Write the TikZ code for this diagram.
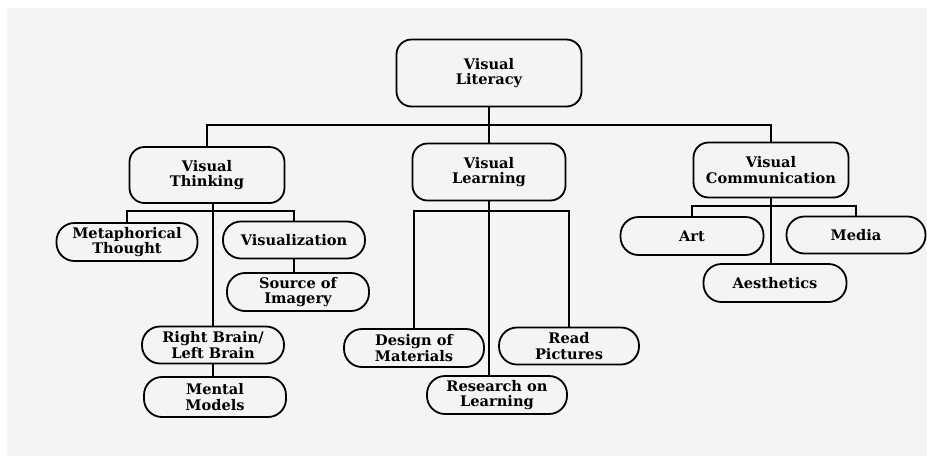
\documentclass[tikz,border=0pt]{standalone}
\usepackage{fontspec}
\setmainfont{DejaVu Serif}
\definecolor{paper}{HTML}{F4F4F4}
\begin{document}
\begin{tikzpicture}[x=1pt,y=-1pt,
  every node/.style={font=\bfseries\fontsize{14.6}{15.5}\selectfont, align=center, inner sep=0pt},
  headbox/.style={draw, line width=1.8pt, fill=paper, rounded corners=15pt},
  leafbox/.style={draw, line width=1.8pt, fill=paper, rounded corners=18pt},
  link/.style={line width=1.8pt}]
  % page and paper
  \fill[white] (0,0) rectangle (927,456);
  \fill[paper] (7,8) rectangle (927,456);
  \useasboundingbox (0,0) rectangle (927,456);

  % top level
  \node[headbox, minimum width=185pt, minimum height=67pt] (lit) at (489,73) {Visual\\Literacy};

  % second level
  \node[headbox, minimum width=155pt, minimum height=56pt] (think) at (207,175) {Visual\\Thinking};
  \node[headbox, minimum width=153pt, minimum height=57pt] (learn) at (489,172) {Visual\\Learning};
  \node[headbox, minimum width=155pt, minimum height=55pt] (comm) at (771,170) {Visual\\Communication};

  % under Visual Thinking
  \node[leafbox, minimum width=141pt, minimum height=38pt] (meta) at (127,242) {Metaphorical\\Thought};
  \node[leafbox, minimum width=142pt, minimum height=37pt] (visz) at (294,240) {Visualization};
  \node[leafbox, minimum width=142pt, minimum height=38pt] (src) at (298,292) {Source of\\Imagery};
  \node[leafbox, minimum width=142pt, minimum height=37pt] (rb) at (213,345) {Right Brain/\\Left Brain};
  \node[leafbox, minimum width=142pt, minimum height=40pt] (mm) at (215,397) {Mental\\Models};

  % under Visual Learning
  \node[leafbox, minimum width=140pt, minimum height=38pt] (des) at (414,348) {Design of\\Materials};
  \node[leafbox, minimum width=140pt, minimum height=37pt] (read) at (569,346) {Read\\Pictures};
  \node[leafbox, minimum width=140pt, minimum height=38pt] (res) at (497,395) {Research on\\Learning};

  % under Visual Communication
  \node[leafbox, minimum width=143pt, minimum height=38pt] (art) at (692,236) {Art};
  \node[leafbox, minimum width=139pt, minimum height=37pt] (media) at (856,235) {Media};
  \node[leafbox, minimum width=143pt, minimum height=38pt] (aes) at (775,283) {Aesthetics};

  % bus heights
  \coordinate (topbus) at (489,125);
  \coordinate (thinkbus) at (207,211);
  \coordinate (learnbus) at (489,211);
  \coordinate (commbus) at (771,206);

  % connectors
  \draw[link] (lit.south) -- (learn.north);
  \draw[link] (think.north) |- (topbus) -| (comm.north);

  \draw[link] (meta.north) |- (thinkbus) -| (visz.north);
  \draw[link] (rb.north) -- (rb.north |- think.south);
  \draw[link] (visz.south) -- (visz.south |- src.north);
  \draw[link] (rb.south) -- (rb.south |- mm.north);

  \draw[link] (des.north) |- (learnbus) -| (read.north);
  \draw[link] (learn.south) -- (learn.south |- res.north);

  \draw[link] (art.north) |- (commbus) -| (media.north);
  \draw[link] (aes.north -| comm.south) -- (comm.south);
\end{tikzpicture}
\end{document}
